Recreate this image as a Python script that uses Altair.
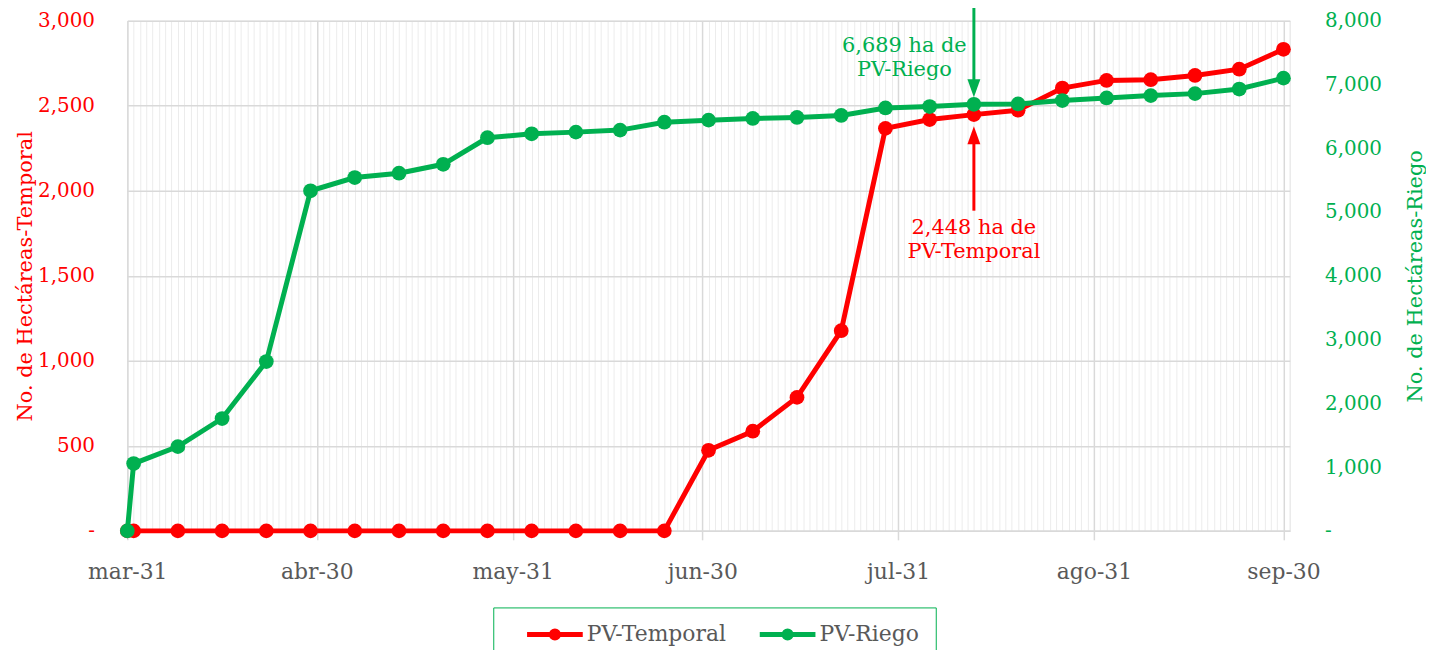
import altair as alt
import pandas as pd

# ---------------- data ----------------
dates = [
    "2023-03-31", "2023-04-01", "2023-04-08", "2023-04-15", "2023-04-22", "2023-04-29",
    "2023-05-06", "2023-05-13", "2023-05-20", "2023-05-27",
    "2023-06-03", "2023-06-10", "2023-06-17", "2023-06-24",
    "2023-07-01", "2023-07-08", "2023-07-15", "2023-07-22", "2023-07-29",
    "2023-08-05", "2023-08-12", "2023-08-19", "2023-08-26",
    "2023-09-02", "2023-09-09", "2023-09-16", "2023-09-23", "2023-09-30",
]
temporal = [0, 0, 0, 0, 0, 0,
            0, 0, 0, 0,
            0, 0, 0, 0,
            474, 586, 785, 1177, 2367,
            2419, 2448, 2474, 2604,
            2649, 2653, 2678, 2715, 2832]
riego = [0, 1055, 1321, 1762, 2656, 5333,
         5541, 5609, 5749, 6165,
         6227, 6253, 6285, 6409,
         6441, 6467, 6483, 6514, 6632,
         6654, 6689, 6695, 6748,
         6789, 6826, 6857, 6929, 7100]
series_names = ["PV-Temporal", "PV-Riego"]
series_colors = ["#FF0000", "#00B050"]
month_abbr = ["ene", "feb", "mar", "abr", "may", "jun", "jul", "ago", "sep", "oct", "nov", "dic"]

# annotation (label for the highlighted week)
anno_date = ["2023-08-12"]
anno_text_date_riego = ["2023-08-01"]
anno_text_date_temp = ["2023-08-12"]
anno_riego_text = ["6,689 ha de\nPV-Riego"]
anno_temp_text = ["2,448 ha de\nPV-Temporal"]
anno_riego_text_y = [7600]
anno_temp_text_y = [1778]
anno_riego_arrow = [8296, 6880, 6799]   # tail, shaft end, tip (riego units)
anno_temp_arrow = [1883, 2320, 2380]    # tail, shaft end, tip (temporal units)

FONT = "DejaVu Serif"
RED, GREEN = series_colors
GRAY_TXT = "#595959"

df_t = pd.DataFrame({"date": dates, "value": temporal, "series": series_names[0]})
df_r = pd.DataFrame({"date": dates, "value": riego, "series": series_names[1]})

# x-domain and daily grid
ms = lambda s: int(pd.Timestamp(s, tz="UTC").value // 10**6)
x_domain = [ms("2023-03-31"), ms("2023-10-01")]
grid_days = [int(t.value // 10**6) for t in pd.date_range("2023-03-31", "2023-10-01", freq="D", tz="UTC")]

month_end = "utcdate(time(datum.value) + 86400000) == 1"
months_js = "[" + ",".join("'%s'" % m for m in month_abbr) + "]"

xaxis = alt.Axis(
    values=grid_days,
    labelExpr=f"{month_end} ? {months_js}[utcmonth(time(datum.value))] + '-' + utcdate(time(datum.value)) : ''",
    labelOverlap=False, labelFlush=False, labelBound=False,
    labelFont=FONT, labelFontSize=22, labelColor=GRAY_TXT, labelPadding=22,
    grid=True,
    gridColor={"condition": {"test": month_end, "value": "#d9d9d9"}, "value": "#ececec"},
    gridWidth={"condition": {"test": month_end, "value": 1.5}, "value": 1},
    tickOpacity={"condition": {"test": month_end, "value": 1}, "value": 0},
    tickColor="#d9d9d9", tickSize=9, tickWidth=1.5,
    domainColor="#d9d9d9", domainWidth=1.5,
    title=None,
)
xscale = alt.Scale(type="utc", domain=x_domain)
X = alt.X("date:T", scale=xscale, axis=xaxis)

yaxis_left = alt.Axis(
    values=[0, 500, 1000, 1500, 2000, 2500, 3000],
    labelExpr="datum.value == 0 ? '-' : format(datum.value, ',')",
    labelFont=FONT, labelFontSize=20, labelColor=RED, labelPadding=33,
    ticks=False, tickSize=0, domain=False,
    grid=True, gridColor="#d9d9d9", gridWidth=1.5,
    title="No. de Hectáreas-Temporal", titleFont=FONT, titleFontSize=21,
    titleFontWeight="normal", titleColor=RED, titlePadding=2,
)
yaxis_right = alt.Axis(
    orient="right",
    values=[0, 1000, 2000, 3000, 4000, 5000, 6000, 7000, 8000],
    labelExpr="datum.value == 0 ? '-' : format(datum.value, ',')",
    labelFont=FONT, labelFontSize=20, labelColor=GREEN, labelPadding=35,
    ticks=False, tickSize=0, domain=False, grid=False,
    title="No. de Hectáreas-Riego", titleFont=FONT, titleFontSize=21,
    titleFontWeight="normal", titleColor=GREEN, titlePadding=44, titleAngle=270,
)
Y_left = alt.Y("value:Q", scale=alt.Scale(domain=[0, 3000], nice=False), axis=yaxis_left)
Y_right = alt.Y("value:Q", scale=alt.Scale(domain=[0, 8000], nice=False), axis=yaxis_right)

color_scale = alt.Scale(domain=series_names, range=series_colors)
legend = alt.Legend(
    title=None, orient="none", legendX=368, legendY=590, direction="horizontal",
    symbolType="M-3.5,0L3.5,0M0.45,0A0.45,0.45,0,1,1,-0.45,0A0.45,0.45,0,1,1,0.45,0Z",
    symbolSize=256, symbolStrokeWidth=5, symbolOffset=35,
    labelFont=FONT, labelFontSize=22, labelColor=GRAY_TXT, labelOffset=21,
    labelExpr="datum.label + ' '",
    columnPadding=15, padding=16, strokeColor=GREEN, cornerRadius=0,
)
STROKE = alt.Stroke("series:N", scale=color_scale, legend=legend)
FILL = alt.Fill("series:N", scale=color_scale, legend=legend)


def series_layers(df, Y):
    line = alt.Chart(df).mark_line(strokeWidth=5).encode(x=X, y=Y, stroke=STROKE)
    pts = alt.Chart(df).mark_point(filled=True, size=220, opacity=1, strokeWidth=0).encode(
        x=X, y=Y, fill=FILL)
    return [line, pts]


# annotations
def arrow(date_list, vals, color, Y, shape):
    d = pd.DataFrame({"date": date_list, "value": [vals[0]], "value2": [vals[1]]})
    tip = pd.DataFrame({"date": date_list, "value": [vals[2]]})
    rule = alt.Chart(d).mark_rule(color=color, strokeWidth=3).encode(
        x=X, y=Y, y2="value2:Q")
    head = alt.Chart(tip).mark_point(shape=shape, filled=True, size=676, color=color,
                                     opacity=1, strokeWidth=0).encode(x=X, y=Y)
    return [rule, head]


def label(date_list, yv, txt, color, Y):
    d = pd.DataFrame({"date": date_list, "value": yv, "txt": txt})
    return alt.Chart(d).mark_text(font=FONT, fontSize=21, color=color, align="center",
                                  baseline="middle", lineBreak="\n", lineHeight=24).encode(
        x=X, y=Y, text="txt:N")


red_group = alt.layer(
    *series_layers(df_t, Y_left),
    *arrow(anno_date, anno_temp_arrow, RED, Y_left, "M-0.5,1.4L0.5,1.4L0,0Z"),
    label(anno_text_date_temp, anno_temp_text_y, anno_temp_text, RED, Y_left),
)
green_group = alt.layer(
    *series_layers(df_r, Y_right),
    *arrow(anno_date, anno_riego_arrow, GREEN, Y_right, "M-0.5,-1.4L0.5,-1.4L0,0Z"),
    label(anno_text_date_riego, anno_riego_text_y, anno_riego_text, GREEN, Y_right),
)

chart = alt.layer(red_group, green_group).resolve_scale(y="independent").properties(
    width=1169, height=513,
    autosize=alt.AutoSizeParams(type="none"),
    padding={"left": 120, "top": 11, "right": 137, "bottom": 118},
).configure_view(stroke=None).configure(background="white")

chart.save("out.html", embed_options={"renderer": "svg", "actions": False})
